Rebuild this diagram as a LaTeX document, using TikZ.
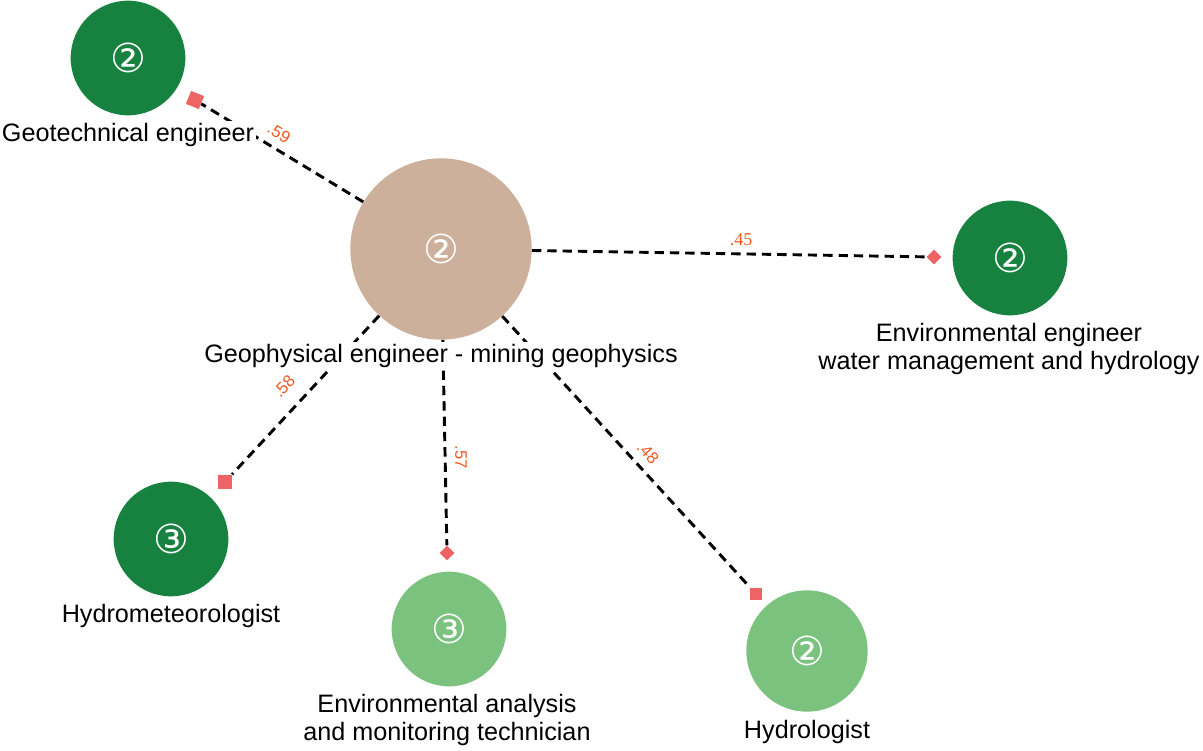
\documentclass[tikz,border=0pt]{standalone}
\usepackage{fontspec}
\setmainfont{Liberation Sans}
\newfontfamily\dejavu{DejaVu Sans}
\newfontfamily\serifw{Liberation Serif}
\definecolor{dkgreen}{HTML}{178240}
\definecolor{ltgreen}{HTML}{7BC27E}
\definecolor{hubtan}{HTML}{CDB09C}
\definecolor{markred}{HTML}{EE6464}
\definecolor{wlab}{HTML}{F0561E}
\begin{document}
\begin{tikzpicture}[x=0.75pt,y=-0.75pt,
  bubble/.style={circle, draw=none, minimum size=86pt, inner sep=0pt, text=white,
    font=\dejavu\fontsize{30}{30}\selectfont},
  dark/.style={bubble, fill=dkgreen},
  light/.style={bubble, fill=ltgreen},
  hub/.style={bubble, fill=hubtan, minimum size=136pt},
  sqmark/.style={rectangle, fill=markred, minimum size=10.5pt, inner sep=0pt},
  diamark/.style={rectangle, fill=markred, rotate=45, minimum size=7.8pt, inner sep=0pt},
  link/.style={draw=black, line width=2.2pt, dash pattern=on 7pt off 4.5pt},
  lab/.style={fill=white, inner sep=1.5pt, align=center, font=\fontsize{18.9}{21.5}\selectfont},
  wt/.style={text=wlab, inner sep=0pt, font=\fontsize{12.5}{12.5}\selectfont},
]
\useasboundingbox (0,0) rectangle (1203,750);
% bubbles
\node[hub]   (hub)   at (441,249) {②};
\node[dark]  (geo)   at (128,58)  {②};
\node[dark]  (envw)  at (1010,258) {②};
\node[dark]  (hmet)  at (171,539) {③};
\node[light] (envan) at (449,629) {③};
\node[light, minimum size=91pt] (hyd) at (807,651) {②};
% markers
\node[sqmark, rotate=-22] (m1) at (195,100) {};
\node[diamark] (m2) at (934,257) {};
\node[sqmark, minimum size=11pt] (m3) at (225,482) {};
\node[diamark] (m4) at (447,553) {};
\node[sqmark, minimum size=9pt] (m5) at (756,594) {};
% connectors
\draw[link] (hub) -- (m1);
\draw[link] (hub) -- (m2);
\draw[link] (hub) -- (m3);
\draw[link] (hub) -- (m4);
\draw[link] (hub) -- (m5);
% weights
\node[wt, rotate=-31] (w1) at (279,133) {.59};
\node[wt, font=\serifw\fontsize{13.5}{13.5}\selectfont] (w2) at (741,240) {.45};
\node[wt, rotate=47] (w3) at (284,386) {.58};
\node[wt, rotate=-90] (w4) at (461,457) {.57};
\node[wt, rotate=-48] (w5) at (648,453) {.48};
% labels
\node[lab] (lgeo) at (128,135) {Geotechnical engineer};
\node[lab] (lhub) at (441,356) {Geophysical engineer - mining geophysics};
\node[lab] (lenvw) at (1009,349) {Environmental engineer\\water management and hydrology};
\node[lab] (lhmet) at (171,616) {Hydrometeorologist};
\node[lab] (lenvan) at (447,720) {Environmental analysis\\and monitoring technician};
\node[lab] (lhyd) at (807,732) {Hydrologist};
\end{tikzpicture}
\end{document}
